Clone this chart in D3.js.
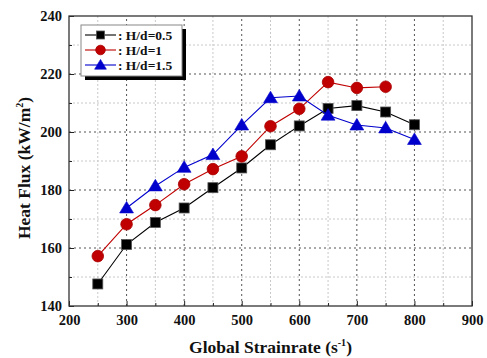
<!DOCTYPE html>
<html>
<head>
<meta charset="utf-8">
<script src="https://cdn.jsdelivr.net/npm/d3@7"></script>
<style>
body { margin: 0; background: #fff; }
text { font-family: "Liberation Serif", "Times New Roman", serif; font-weight: bold; }
</style>
</head>
<body>
<div id="chart"></div>
<script>
var width = 487, height = 358;
var margin = {left: 69, right: 15, top: 16, bottom: 52};

// data
var strainRates05 = [250, 300, 350, 400, 450, 500, 550, 600, 650, 700, 750, 800];
var heatFlux05 = [147.6, 161.2, 168.8, 173.8, 180.8, 187.6, 195.6, 202.1, 208.1, 209.1, 206.9, 202.5];
var strainRates1 = [250, 300, 350, 400, 450, 500, 550, 600, 650, 700, 750];
var heatFlux1 = [157.2, 168.2, 174.8, 182.0, 187.2, 191.6, 202.0, 208.0, 217.2, 215.2, 215.6];
var strainRates15 = [300, 350, 400, 450, 500, 550, 600, 650, 700, 750, 800];
var heatFlux15 = [173.8, 181.4, 187.8, 192.2, 202.4, 211.8, 212.4, 205.8, 202.4, 201.4, 197.4];
var seriesNames = [": H/d=0.5", ": H/d=1", ": H/d=1.5"];
var xTicks = [200, 300, 400, 500, 600, 700, 800, 900];
var yTicks = [140, 160, 180, 200, 220, 240];

var series = [
  {name: seriesNames[0], xs: strainRates05, ys: heatFlux05, color: "#000000", marker: "square"},
  {name: seriesNames[1], xs: strainRates1, ys: heatFlux1, color: "#c00000", marker: "circle"},
  {name: seriesNames[2], xs: strainRates15, ys: heatFlux15, color: "#0000cc", marker: "triangle"}
];

var svg = d3.select("#chart").append("svg")
  .attr("width", width).attr("height", height);

var x = d3.scaleLinear().domain([200, 900]).range([margin.left, width - margin.right]);
var y = d3.scaleLinear().domain([140, 240]).range([height - margin.bottom, margin.top]);

var x0 = margin.left, x1 = width - margin.right, y0 = height - margin.bottom, y1 = margin.top;

// minor grid
var minorX = d3.range(250, 900, 100);
var minorY = d3.range(150, 240, 20);
svg.append("g").selectAll("line").data(minorX).enter().append("line")
  .attr("x1", d => x(d)).attr("x2", d => x(d)).attr("y1", y0).attr("y2", y1)
  .attr("stroke", "#c8c8c8").attr("stroke-width", 1).attr("stroke-dasharray", "2,2");
svg.append("g").selectAll("line").data(minorY).enter().append("line")
  .attr("x1", x0).attr("x2", x1).attr("y1", d => y(d)).attr("y2", d => y(d))
  .attr("stroke", "#c8c8c8").attr("stroke-width", 1).attr("stroke-dasharray", "2,2");
// major grid
svg.append("g").selectAll("line").data(xTicks.slice(1, -1)).enter().append("line")
  .attr("x1", d => x(d)).attr("x2", d => x(d)).attr("y1", y0).attr("y2", y1)
  .attr("stroke", "#555").attr("stroke-width", 1).attr("stroke-dasharray", "2,3");
svg.append("g").selectAll("line").data(yTicks.slice(1, -1)).enter().append("line")
  .attr("x1", x0).attr("x2", x1).attr("y1", d => y(d)).attr("y2", d => y(d))
  .attr("stroke", "#555").attr("stroke-width", 1).attr("stroke-dasharray", "2,3");

// axes with inward ticks
svg.append("g").attr("transform", "translate(0," + y0 + ")")
  .call(d3.axisBottom(x).tickValues(xTicks).tickSizeInner(-5).tickSizeOuter(0).tickPadding(9));
svg.append("g").attr("transform", "translate(0," + y0 + ")")
  .call(d3.axisBottom(x).tickValues(minorX).tickSizeInner(-3).tickSizeOuter(0).tickFormat(""));
svg.append("g").attr("transform", "translate(" + x0 + ",0)")
  .call(d3.axisLeft(y).tickValues(yTicks).tickSizeInner(-5).tickSizeOuter(0).tickPadding(7));
svg.append("g").attr("transform", "translate(" + x0 + ",0)")
  .call(d3.axisLeft(y).tickValues(minorY).tickSizeInner(-3).tickSizeOuter(0).tickFormat(""));
svg.selectAll(".domain").remove();
svg.selectAll(".tick line").attr("stroke", "#222");
svg.selectAll(".tick text").attr("font-size", 14.5).attr("fill", "#111")
  .style("font-family", "Liberation Serif").style("font-weight", "bold");

// frame
svg.append("rect").attr("x", x0).attr("y", y1).attr("width", x1 - x0).attr("height", y0 - y1)
  .attr("fill", "none").attr("stroke", "#333").attr("stroke-width", 1.3);

function drawMarker(g, kind, color, size) {
  if (kind === "square") {
    g.append("rect").attr("x", -size).attr("y", -size).attr("width", 2 * size).attr("height", 2 * size)
      .attr("fill", "#000").attr("stroke", "#555").attr("stroke-width", 0.8);
  } else if (kind === "circle") {
    g.append("circle").attr("r", size + 0.8).attr("fill", color).attr("stroke", "#a00").attr("stroke-width", 0.8);
  } else {
    var s = size + 1.6;
    g.append("path").attr("d", "M0," + (-s) + "L" + (s * 1.05) + "," + (s * 0.75) + "L" + (-s * 1.05) + "," + (s * 0.75) + "Z")
      .attr("fill", color).attr("stroke", color).attr("stroke-width", 0.6);
  }
}

var line = d3.line().x(d => x(d[0])).y(d => y(d[1]));

series.forEach(function(s) {
  var pts = s.xs.map((v, i) => [v, s.ys[i]]);
  svg.append("path").datum(pts).attr("d", line)
    .attr("fill", "none").attr("stroke", s.color).attr("stroke-width", 1.1);
  svg.append("g").selectAll("g").data(pts).enter().append("g")
    .attr("transform", d => "translate(" + x(d[0]) + "," + y(d[1]) + ")")
    .each(function() { drawMarker(d3.select(this), s.marker, s.color, 5); });
});

// legend
var lg = svg.append("g").attr("transform", "translate(81,25)");
lg.append("rect").attr("x", 4).attr("y", 4).attr("width", 101).attr("height", 51).attr("fill", "#000");
lg.append("rect").attr("x", 0).attr("y", 0).attr("width", 101).attr("height", 51)
  .attr("fill", "#fff").attr("stroke", "#888").attr("stroke-width", 1);
series.forEach(function(s, i) {
  var ly = 10 + i * 15;
  lg.append("line").attr("x1", 4).attr("x2", 35).attr("y1", ly).attr("y2", ly)
    .attr("stroke", s.color).attr("stroke-width", 1.1);
  var m = lg.append("g").attr("transform", "translate(19.5," + ly + ")");
  drawMarker(m, s.marker, s.color, 4);
  lg.append("text").attr("x", 37).attr("y", ly + 4.5).attr("font-size", 13.5).attr("fill", "#111").text(s.name);
});

// axis titles
svg.append("text").attr("x", (x0 + x1) / 2).attr("y", height - 5).attr("text-anchor", "middle")
  .attr("font-size", 17.5).attr("fill", "#111")
  .html('Global Strainrate (s<tspan dy="-7" font-size="10">-1</tspan><tspan dy="7">)</tspan>');
svg.append("text").attr("transform", "translate(30,168) rotate(-90)")
  .attr("text-anchor", "middle").attr("font-size", 17.5).attr("fill", "#111")
  .html('Heat Flux (kW/m<tspan dy="-7" font-size="10">2</tspan><tspan dy="7">)</tspan>');
</script>
</body>
</html>
